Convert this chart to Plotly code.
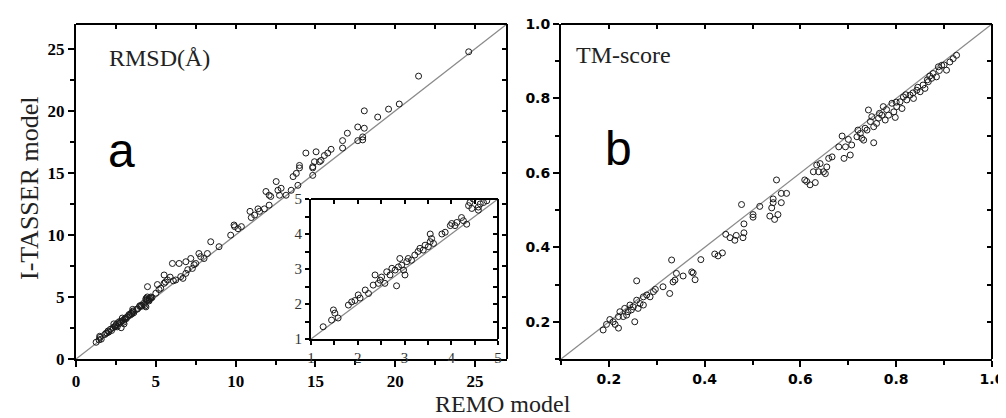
import plotly.graph_objects as go

# ---------------- Data ----------------
# Panel a: RMSD (Å), REMO model (x) vs I-TASSER model (y)
remo_a = [1.26, 1.44, 1.48, 1.51, 1.58, 1.80, 1.87, 1.94, 2.01, 2.05, 2.16, 2.23, 2.33, 2.37,
          2.44, 2.48, 2.51, 2.58, 2.62, 2.69, 2.73, 2.83, 2.80, 2.87, 2.90, 2.94, 2.98, 3.01,
          3.05, 3.08, 3.15, 3.22, 3.29, 3.33, 3.40, 3.44, 3.51, 3.55, 3.58, 3.55, 3.62, 3.80,
          3.87, 3.98, 4.01, 4.08, 4.12, 4.22, 4.26, 4.33, 4.37, 4.40, 4.47, 4.44, 4.58, 4.62,
          4.69, 4.76, 4.58,
          4.48, 4.38, 4.69, 4.48, 5.00, 5.10, 5.31, 5.52, 5.52, 5.73, 6.04, 6.46, 6.25, 6.56,
          6.88, 6.88, 7.19, 7.29, 7.50, 7.70, 7.81, 8.02, 8.23, 8.44, 8.96, 9.69, 9.90,
          9.94, 10.15, 10.36, 10.90, 10.98, 11.19, 11.40, 11.50, 11.80, 12.10, 11.90, 12.10,
          12.20, 12.54, 12.65, 12.75, 12.85, 13.16, 13.48, 13.90, 13.60, 13.80, 14.00, 14.00,
          14.40, 14.83, 14.83, 14.94, 15.04, 15.35, 15.56, 15.77, 15.25, 15.98, 14.83,
          16.70, 16.70, 17.00, 17.65, 17.65, 17.96, 18.06, 18.06, 17.96, 18.90, 19.58, 20.25,
          21.46, 24.60,
          5.20, 5.60, 5.90, 6.10, 6.70, 7.00, 7.40]
itasser_a = [1.35, 1.54, 1.83, 1.74, 1.60, 1.97, 2.06, 2.10, 2.26, 2.17, 2.40, 2.30, 2.54, 2.83,
             2.59, 2.68, 2.77, 2.59, 2.92, 2.83, 3.02, 2.52, 2.97, 3.06, 3.30, 3.11, 2.97, 2.83,
             3.21, 3.30, 3.25, 3.40, 3.50, 3.59, 3.54, 3.68, 3.64, 3.78, 3.87, 4.00, 3.73, 4.00,
             4.05, 4.24, 4.30, 4.24, 4.33, 4.47, 4.38, 4.28, 4.81, 4.90, 5.00, 4.73, 4.68, 4.86,
             4.90, 4.95, 4.77,
             4.75, 4.20, 5.00, 5.83, 5.30, 6.00, 5.70, 6.10, 6.77, 6.37, 7.70, 7.70, 6.37, 6.64,
             6.90, 7.84, 8.10, 7.30, 7.70, 8.50, 8.25, 8.10, 8.50, 9.45, 9.05, 9.98, 10.80,
             10.67, 10.50, 10.67, 11.90, 11.40, 11.60, 12.10, 11.90, 12.10, 12.40, 13.50, 13.20,
             13.10, 14.30, 13.60, 13.20, 13.76, 13.20, 13.60, 14.00, 14.70, 14.96, 15.40, 15.60,
             16.60, 14.80, 15.40, 15.90, 16.70, 16.00, 16.40, 16.60, 15.90, 16.90, 15.50,
             17.00, 17.60, 18.20, 17.60, 18.70, 17.90, 18.60, 20.00, 17.66, 19.50, 20.14, 20.55,
             22.80, 24.76,
             5.60, 6.20, 6.60, 6.30, 6.50, 7.20, 7.60]

# Inset: RMSD < 5 Å
remo_in = [1.26, 1.44, 1.48, 1.51, 1.58, 1.80, 1.87, 1.94, 2.01, 2.05, 2.16, 2.23, 2.33, 2.37,
           2.44, 2.48, 2.51, 2.58, 2.62, 2.69, 2.73, 2.83, 2.80, 2.87, 2.90, 2.94, 2.98, 3.01,
           3.05, 3.08, 3.15, 3.22, 3.29, 3.33, 3.40, 3.44, 3.51, 3.55, 3.58, 3.55, 3.62, 3.80,
           3.87, 3.98, 4.01, 4.08, 4.12, 4.22, 4.26, 4.33, 4.37, 4.40, 4.47, 4.44, 4.58, 4.62,
           4.69, 4.76, 4.58]
itasser_in = [1.35, 1.54, 1.83, 1.74, 1.60, 1.97, 2.06, 2.10, 2.26, 2.17, 2.40, 2.30, 2.54, 2.83,
              2.59, 2.68, 2.77, 2.59, 2.92, 2.83, 3.02, 2.52, 2.97, 3.06, 3.30, 3.11, 2.97, 2.83,
              3.21, 3.30, 3.25, 3.40, 3.50, 3.59, 3.54, 3.68, 3.64, 3.78, 3.87, 4.00, 3.73, 4.00,
              4.05, 4.24, 4.30, 4.24, 4.33, 4.47, 4.38, 4.28, 4.81, 4.90, 5.00, 4.73, 4.68, 4.86,
              4.90, 4.95, 4.77]

# Panel b: TM-score
remo_b = [0.188, 0.195, 0.202, 0.209, 0.213, 0.220, 0.220, 0.223, 0.230, 0.233, 0.237, 0.240,
          0.244, 0.247, 0.251, 0.254, 0.258, 0.258, 0.261, 0.265, 0.272, 0.272, 0.279, 0.286,
          0.293, 0.297, 0.313, 0.327, 0.331, 0.334, 0.338, 0.341, 0.355, 0.373, 0.376, 0.380,
          0.392, 0.421, 0.428, 0.437, 0.444, 0.453, 0.463, 0.466, 0.480, 0.482, 0.482, 0.477,
          0.501, 0.501, 0.515, 0.536, 0.540, 0.543, 0.546, 0.553, 0.560,
          0.543, 0.560, 0.571, 0.550, 0.609, 0.613, 0.620, 0.631, 0.627, 0.634, 0.638, 0.641,
          0.648, 0.652, 0.655, 0.659, 0.666, 0.680, 0.687, 0.691, 0.694, 0.704, 0.707, 0.718,
          0.725, 0.728, 0.732, 0.739, 0.742, 0.746, 0.749, 0.753, 0.753, 0.759, 0.763, 0.773,
          0.777, 0.784, 0.791, 0.795, 0.798, 0.801, 0.808, 0.812, 0.815, 0.822, 0.829, 0.836,
          0.843, 0.850, 0.856, 0.860, 0.867, 0.874, 0.877, 0.884, 0.888, 0.895, 0.905, 0.912,
          0.919, 0.926,
          0.700, 0.720, 0.735, 0.765, 0.770, 0.780, 0.800, 0.820, 0.835, 0.845, 0.865, 0.870,
          0.890, 0.900]
itasser_b = [0.178, 0.193, 0.206, 0.200, 0.193, 0.183, 0.214, 0.227, 0.214, 0.236, 0.218, 0.227,
             0.245, 0.232, 0.240, 0.200, 0.258, 0.310, 0.236, 0.249, 0.245, 0.267, 0.272, 0.267,
             0.281, 0.287, 0.294, 0.276, 0.366, 0.307, 0.312, 0.330, 0.323, 0.334, 0.331, 0.313,
             0.367, 0.382, 0.377, 0.385, 0.435, 0.426, 0.419, 0.432, 0.426, 0.439, 0.463, 0.515,
             0.481, 0.488, 0.510, 0.484, 0.506, 0.520, 0.475, 0.488, 0.520,
             0.530, 0.545, 0.545, 0.581, 0.581, 0.577, 0.568, 0.574, 0.603, 0.621, 0.603, 0.625,
             0.603, 0.598, 0.616, 0.639, 0.643, 0.670, 0.699, 0.639, 0.670, 0.648, 0.675, 0.697,
             0.706, 0.693, 0.688, 0.715, 0.769, 0.738, 0.751, 0.724, 0.681, 0.733, 0.747, 0.778,
             0.742, 0.755, 0.787, 0.764, 0.749, 0.778, 0.791, 0.773, 0.804, 0.796, 0.809, 0.800,
             0.822, 0.818, 0.836, 0.827, 0.845, 0.854, 0.867, 0.858, 0.885, 0.889, 0.876, 0.898,
             0.907, 0.916,
             0.690, 0.715, 0.720, 0.760, 0.755, 0.770, 0.790, 0.810, 0.815, 0.830, 0.850, 0.860,
             0.875, 0.890]

range_a = [0, 27]
range_b = [0.1, 1.0]
range_in = [1, 5]

# ---------------- Figure ----------------
# page body has an 8px margin: figure placed at (8, 8) inside the 1006x418 window
OFF = 8
W, H = 998, 410
def px_x(p): return (p - OFF) / W
def px_y(p): return 1 - (p - OFF) / H

dom_a_x = [px_x(76), px_x(507)]
dom_b_x = [px_x(561), px_x(992)]
dom_y = [px_y(359), px_y(24)]
dom_in_x = [px_x(311), px_x(498)]
dom_in_y = [px_y(339), px_y(199)]

mk = dict(symbol="circle-open", size=6, color="#1a1a1a", line=dict(width=1, color="#1a1a1a"))
line_style = dict(color="#8a8a8a", width=1.3)

fig = go.Figure()
fig.add_trace(go.Scatter(x=range_a, y=range_a, mode="lines", line=line_style, xaxis="x", yaxis="y", hoverinfo="skip"))
fig.add_trace(go.Scatter(x=range_b, y=range_b, mode="lines", line=line_style, xaxis="x2", yaxis="y2", hoverinfo="skip"))
fig.add_trace(go.Scatter(x=range_in, y=range_in, mode="lines", line=line_style, xaxis="x3", yaxis="y3", hoverinfo="skip"))
fig.add_trace(go.Scatter(x=remo_a, y=itasser_a, mode="markers", marker=mk, xaxis="x", yaxis="y"))
fig.add_trace(go.Scatter(x=remo_b, y=itasser_b, mode="markers", marker=mk, xaxis="x2", yaxis="y2"))
fig.add_trace(go.Scatter(x=remo_in, y=itasser_in, mode="markers", marker=mk, xaxis="x3", yaxis="y3"))
for xa, ya in [("x4", "y4"), ("x5", "y5"), ("x6", "y6")]:
    fig.add_trace(go.Scatter(x=[None], y=[None], mode="markers", xaxis=xa, yaxis=ya, hoverinfo="skip"))

serif_bold = dict(family="Liberation Serif", size=17, color="black", weight=700)
sans_bold = dict(family="DejaVu Sans", size=14, color="black", weight=700)
serif_reg = dict(family="Liberation Serif", size=15, color="#333333")

def main_axis(dom, rng, dtick, mdtick, anchor, font, ticklen=6, fmt=None):
    d = dict(domain=dom, range=rng, anchor=anchor, showgrid=False, zeroline=False,
             showline=True, linecolor="black", linewidth=2, ticks="outside", automargin=False,
             ticklen=ticklen, tickwidth=1.5, tickcolor="black", dtick=dtick, tick0=0,
             tickfont=font, minor=dict(dtick=mdtick, tick0=0, ticks="outside", ticklen=4, tickwidth=1.5,
                                       tickcolor="black", showgrid=False),
             fixedrange=True)
    if fmt:
        d["tickformat"] = fmt
    return d

def overlay_axis(dom, rng, dtick, side, anchor, overlaying):
    return dict(domain=dom, range=rng, anchor=anchor, side=side, overlaying=overlaying, automargin=False,
                showgrid=False, zeroline=False, showline=False, ticks="inside", ticklen=5,
                tickwidth=1.5, tickcolor="black", dtick=dtick, tick0=0, showticklabels=False,
                fixedrange=True)

fig.update_layout(
    width=W, height=H, margin=dict(l=0, r=0, t=0, b=0, autoexpand=False),
    paper_bgcolor="white", plot_bgcolor="white", showlegend=False,
    xaxis=main_axis(dom_a_x, range_a, 5, 2.5, "y", serif_bold),
    yaxis=main_axis(dom_y, range_a, 5, 2.5, "x", serif_bold),
    xaxis2=main_axis(dom_b_x, range_b, 0.2, 0.1, "y2", sans_bold, fmt=".1f"),
    yaxis2=main_axis(dom_y, range_b, 0.2, 0.1, "x2", sans_bold, fmt=".1f"),
    xaxis3=main_axis(dom_in_x, range_in, 1, 0.5, "y3", serif_reg, ticklen=4),
    yaxis3=main_axis(dom_in_y, range_in, 1, 0.5, "x3", serif_reg, ticklen=4),
    xaxis4=overlay_axis(dom_a_x, range_a, 2.5, "top", "y4", "x"),
    yaxis4=overlay_axis(dom_y, range_a, 2.5, "right", "x4", "y"),
    xaxis5=overlay_axis(dom_b_x, range_b, 0.1, "top", "y5", "x2"),
    yaxis5=overlay_axis(dom_y, range_b, 0.1, "right", "x5", "y2"),
    xaxis6=overlay_axis(dom_in_x, range_in, 0.5, "top", "y6", "x3"),
    yaxis6=overlay_axis(dom_in_y, range_in, 0.5, "right", "x6", "y3"),
)

for d_x, d_y in [(dom_a_x, dom_y), (dom_b_x, dom_y), (dom_in_x, dom_in_y)]:
    fig.add_shape(type="line", xref="paper", yref="paper", x0=d_x[0], x1=d_x[1], y0=d_y[1], y1=d_y[1],
                  line=dict(color="black", width=2))
    fig.add_shape(type="line", xref="paper", yref="paper", x0=d_x[1], x1=d_x[1], y0=d_y[0], y1=d_y[1],
                  line=dict(color="black", width=2))
fig.add_shape(type="rect", xref="paper", yref="paper", x0=dom_in_x[0], x1=dom_in_x[1],
              y0=dom_in_y[0], y1=dom_in_y[1], fillcolor="white", line=dict(width=0), layer="below")

ann_serif = dict(family="Liberation Serif", size=24, color="#222")
ann_letter = dict(family="Liberation Sans", size=48, color="black")
fig.add_annotation(xref="paper", yref="paper", x=px_x(107), y=px_y(58), text="RMSD(Å)",
                   showarrow=False, xanchor="left", yanchor="middle", font=ann_serif)
fig.add_annotation(xref="paper", yref="paper", x=px_x(121), y=px_y(150), text="a",
                   showarrow=False, xanchor="center", yanchor="middle", font=ann_letter)
fig.add_annotation(xref="paper", yref="paper", x=px_x(574), y=px_y(55), text="TM-score",
                   showarrow=False, xanchor="left", yanchor="middle", font=ann_serif)
fig.add_annotation(xref="paper", yref="paper", x=px_x(618), y=px_y(148), text="b",
                   showarrow=False, xanchor="center", yanchor="middle", font=ann_letter)
fig.add_annotation(xref="paper", yref="paper", x=px_x(30), y=px_y(188), text="I-TASSER model",
                   showarrow=False, textangle=-90, xanchor="center", yanchor="middle",
                   font=dict(family="Liberation Serif", size=26, color="#222"))
fig.add_annotation(xref="paper", yref="paper", x=px_x(503), y=px_y(404), text="REMO model",
                   showarrow=False, xanchor="center", yanchor="middle",
                   font=dict(family="Liberation Serif", size=24, color="#222"))

fig.write_html("out.html")
